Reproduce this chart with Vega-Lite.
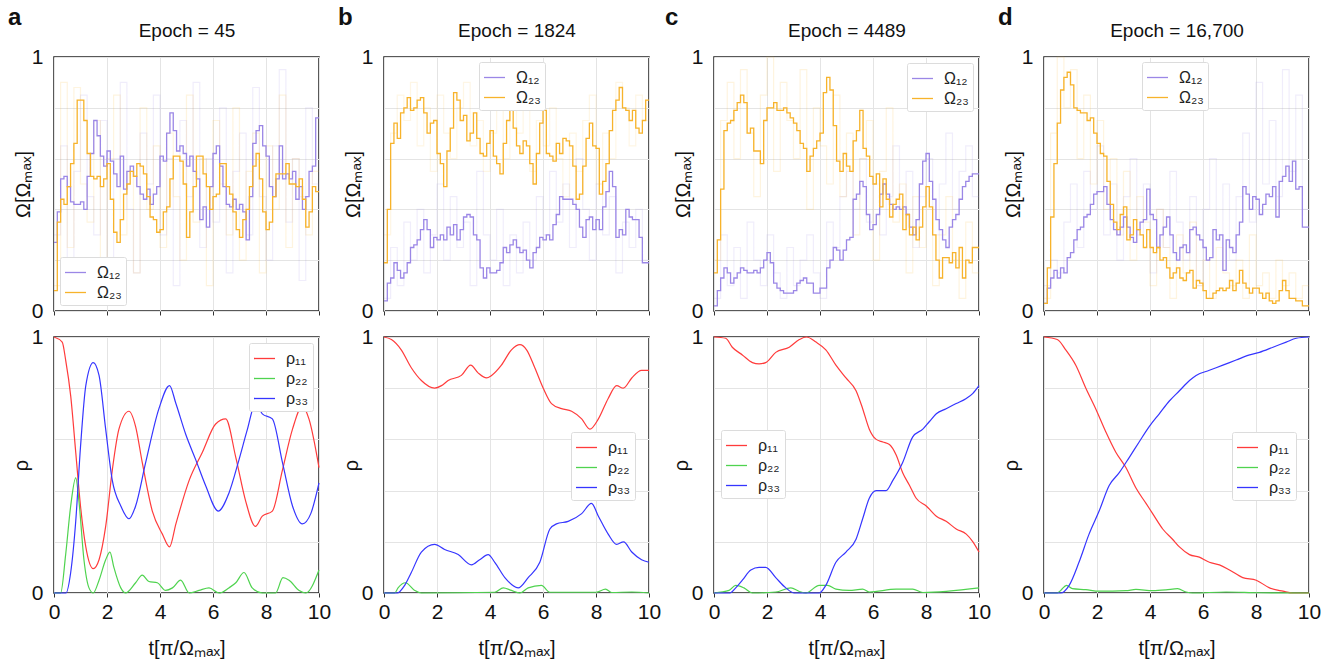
{
"$schema":"https://vega.github.io/schema/vega-lite/v6.json",
"padding":{"left":7,"top":5,"right":5,"bottom":5},
"config":{
 "font":"Liberation Sans",
 "view":{"stroke":"#222","strokeWidth":1.5},
 "axis":{"domain":false,"gridColor":"#e4e4e4","gridWidth":1,"tickColor":"#333","tickSize":4,"labelFontSize":21,"labelColor":"#111","titleFontSize":20,"titleFontWeight":"normal","titleColor":"#111","labelFlush":false},
 "legend":{"fillColor":"white","strokeColor":"#dcdcdc","padding":4,"cornerRadius":2,"labelFontSize":16,"labelColor":"#222","symbolType":"stroke","symbolSize":441,"symbolStrokeWidth":1.3,"labelOffset":10,"rowPadding":0},
 "title":{"fontSize":24,"fontWeight":"bold","color":"#111","anchor":"start","frame":"group"}
},
"datasets":{
"aP":[{"t":0,"v":0.27},{"t":0.125,"v":0.39},{"t":0.25,"v":0.52},{"t":0.375,"v":0.53},{"t":0.5,"v":0.49},{"t":0.625,"v":0.43},{"t":0.75,"v":0.42},{"t":0.875,"v":0.42},
{"t":1,"v":0.43},{"t":1.125,"v":0.40},{"t":1.25,"v":0.53},{"t":1.375,"v":0.62},{"t":1.5,"v":0.75},{"t":1.625,"v":0.69},{"t":1.75,"v":0.61},{"t":1.875,"v":0.57},
{"t":2,"v":0.63},{"t":2.125,"v":0.59},{"t":2.25,"v":0.54},{"t":2.375,"v":0.49},{"t":2.5,"v":0.61},{"t":2.625,"v":0.48},{"t":2.75,"v":0.55},{"t":2.875,"v":0.57},
{"t":3,"v":0.53},{"t":3.125,"v":0.49},{"t":3.25,"v":0.46},{"t":3.375,"v":0.44},{"t":3.5,"v":0.48},{"t":3.625,"v":0.42},{"t":3.75,"v":0.46},{"t":3.875,"v":0.49},
{"t":4,"v":0.61},{"t":4.125,"v":0.59},{"t":4.25,"v":0.70},{"t":4.375,"v":0.78},{"t":4.5,"v":0.71},{"t":4.625,"v":0.63},{"t":4.75,"v":0.65},{"t":4.875,"v":0.62},
{"t":5,"v":0.57},{"t":5.125,"v":0.61},{"t":5.25,"v":0.55},{"t":5.375,"v":0.52},{"t":5.5,"v":0.36},{"t":5.625,"v":0.41},{"t":5.75,"v":0.33},{"t":5.875,"v":0.49},
{"t":6,"v":0.62},{"t":6.125,"v":0.65},{"t":6.25,"v":0.57},{"t":6.375,"v":0.49},{"t":6.5,"v":0.42},{"t":6.625,"v":0.41},{"t":6.75,"v":0.44},{"t":6.875,"v":0.40},
{"t":7,"v":0.42},{"t":7.125,"v":0.39},{"t":7.25,"v":0.28},{"t":7.375,"v":0.45},{"t":7.5,"v":0.66},{"t":7.625,"v":0.71},{"t":7.75,"v":0.73},{"t":7.875,"v":0.65},
{"t":8,"v":0.61},{"t":8.125,"v":0.49},{"t":8.25,"v":0.45},{"t":8.375,"v":0.52},{"t":8.5,"v":0.65},{"t":8.625,"v":0.52},{"t":8.75,"v":0.54},{"t":8.875,"v":0.52},
{"t":9,"v":0.55},{"t":9.125,"v":0.44},{"t":9.25,"v":0.49},{"t":9.375,"v":0.40},{"t":9.5,"v":0.45},{"t":9.625,"v":0.55},{"t":9.75,"v":0.57},{"t":9.875,"v":0.76},{"t":10,"v":0.76}],
"aO":[{"t":0,"v":0.08},{"t":0.125,"v":0.35},{"t":0.25,"v":0.44},{"t":0.375,"v":0.42},{"t":0.5,"v":0.49},{"t":0.625,"v":0.58},{"t":0.75,"v":0.66},{"t":0.875,"v":0.83},
{"t":1,"v":0.83},{"t":1.125,"v":0.75},{"t":1.25,"v":0.62},{"t":1.375,"v":0.53},{"t":1.5,"v":0.52},{"t":1.625,"v":0.53},{"t":1.75,"v":0.49},{"t":1.875,"v":0.52},
{"t":2,"v":0.58},{"t":2.125,"v":0.44},{"t":2.25,"v":0.31},{"t":2.375,"v":0.27},{"t":2.5,"v":0.36},{"t":2.625,"v":0.46},{"t":2.75,"v":0.50},{"t":2.875,"v":0.55},
{"t":3,"v":0.53},{"t":3.125,"v":0.58},{"t":3.25,"v":0.57},{"t":3.375,"v":0.54},{"t":3.5,"v":0.45},{"t":3.625,"v":0.37},{"t":3.75,"v":0.36},{"t":3.875,"v":0.31},
{"t":4,"v":0.32},{"t":4.125,"v":0.39},{"t":4.25,"v":0.41},{"t":4.375,"v":0.52},{"t":4.5,"v":0.61},{"t":4.625,"v":0.61},{"t":4.75,"v":0.59},{"t":4.875,"v":0.50},
{"t":5,"v":0.29},{"t":5.125,"v":0.39},{"t":5.25,"v":0.49},{"t":5.375,"v":0.61},{"t":5.5,"v":0.61},{"t":5.625,"v":0.54},{"t":5.75,"v":0.49},{"t":5.875,"v":0.40},
{"t":6,"v":0.45},{"t":6.125,"v":0.46},{"t":6.25,"v":0.58},{"t":6.375,"v":0.58},{"t":6.5,"v":0.49},{"t":6.625,"v":0.46},{"t":6.75,"v":0.39},{"t":6.875,"v":0.32},
{"t":7,"v":0.29},{"t":7.125,"v":0.36},{"t":7.25,"v":0.40},{"t":7.375,"v":0.49},{"t":7.5,"v":0.57},{"t":7.625,"v":0.62},{"t":7.75,"v":0.52},{"t":7.875,"v":0.39},
{"t":8,"v":0.32},{"t":8.125,"v":0.35},{"t":8.25,"v":0.45},{"t":8.375,"v":0.54},{"t":8.5,"v":0.54},{"t":8.625,"v":0.54},{"t":8.75,"v":0.58},{"t":8.875,"v":0.50},
{"t":9,"v":0.50},{"t":9.125,"v":0.49},{"t":9.25,"v":0.52},{"t":9.375,"v":0.44},{"t":9.5,"v":0.33},{"t":9.625,"v":0.39},{"t":9.75,"v":0.49},{"t":9.875,"v":0.47},{"t":10,"v":0.47}],
"bO":[{"t":0,"v":0.19},{"t":0.125,"v":0.40},{"t":0.25,"v":0.66},{"t":0.375,"v":0.74},{"t":0.5,"v":0.68},{"t":0.625,"v":0.78},{"t":0.75,"v":0.80},{"t":0.875,"v":0.84},
{"t":1,"v":0.79},{"t":1.125,"v":0.80},{"t":1.25,"v":0.83},{"t":1.375,"v":0.84},{"t":1.5,"v":0.78},{"t":1.625,"v":0.70},{"t":1.75,"v":0.74},{"t":1.875,"v":0.75},
{"t":2,"v":0.62},{"t":2.125,"v":0.58},{"t":2.25,"v":0.49},{"t":2.375,"v":0.63},{"t":2.5,"v":0.72},{"t":2.625,"v":0.86},{"t":2.75,"v":0.83},{"t":2.875,"v":0.75},
{"t":3,"v":0.77},{"t":3.125,"v":0.67},{"t":3.25,"v":0.70},{"t":3.375,"v":0.78},{"t":3.5,"v":0.68},{"t":3.625,"v":0.62},{"t":3.75,"v":0.61},{"t":3.875,"v":0.66},
{"t":4,"v":0.71},{"t":4.125,"v":0.61},{"t":4.25,"v":0.58},{"t":4.375,"v":0.54},{"t":4.5,"v":0.66},{"t":4.625,"v":0.75},{"t":4.75,"v":0.83},{"t":4.875,"v":0.72},
{"t":5,"v":0.65},{"t":5.125,"v":0.62},{"t":5.25,"v":0.67},{"t":5.375,"v":0.65},{"t":5.5,"v":0.58},{"t":5.625,"v":0.50},{"t":5.75,"v":0.62},{"t":5.875,"v":0.74},
{"t":6,"v":0.79},{"t":6.125,"v":0.62},{"t":6.25,"v":0.61},{"t":6.375,"v":0.59},{"t":6.5,"v":0.66},{"t":6.625,"v":0.62},{"t":6.75,"v":0.68},{"t":6.875,"v":0.67},
{"t":7,"v":0.65},{"t":7.125,"v":0.57},{"t":7.25,"v":0.44},{"t":7.375,"v":0.46},{"t":7.5,"v":0.57},{"t":7.625,"v":0.68},{"t":7.75,"v":0.74},{"t":7.875,"v":0.65},
{"t":8,"v":0.64},{"t":8.125,"v":0.46},{"t":8.25,"v":0.51},{"t":8.375,"v":0.58},{"t":8.5,"v":0.71},{"t":8.625,"v":0.79},{"t":8.75,"v":0.83},{"t":8.875,"v":0.88},
{"t":9,"v":0.80},{"t":9.125,"v":0.79},{"t":9.25,"v":0.75},{"t":9.375,"v":0.79},{"t":9.5,"v":0.72},{"t":9.625,"v":0.70},{"t":9.75,"v":0.75},{"t":9.875,"v":0.83},{"t":10,"v":0.83}],
"bP":[{"t":0,"v":0.04},{"t":0.125,"v":0.11},{"t":0.25,"v":0.13},{"t":0.375,"v":0.19},{"t":0.5,"v":0.16},{"t":0.625,"v":0.13},{"t":0.75,"v":0.15},{"t":0.875,"v":0.19},
{"t":1,"v":0.25},{"t":1.125,"v":0.26},{"t":1.25,"v":0.28},{"t":1.375,"v":0.32},{"t":1.5,"v":0.36},{"t":1.625,"v":0.32},{"t":1.75,"v":0.25},{"t":1.875,"v":0.29},
{"t":2,"v":0.28},{"t":2.125,"v":0.30},{"t":2.25,"v":0.28},{"t":2.375,"v":0.33},{"t":2.5,"v":0.30},{"t":2.625,"v":0.34},{"t":2.75,"v":0.28},{"t":2.875,"v":0.32},
{"t":3,"v":0.37},{"t":3.125,"v":0.38},{"t":3.25,"v":0.37},{"t":3.375,"v":0.30},{"t":3.5,"v":0.28},{"t":3.625,"v":0.17},{"t":3.75,"v":0.13},{"t":3.875,"v":0.17},
{"t":4,"v":0.15},{"t":4.125,"v":0.15},{"t":4.25,"v":0.16},{"t":4.375,"v":0.19},{"t":4.5,"v":0.25},{"t":4.625,"v":0.23},{"t":4.75,"v":0.26},{"t":4.875,"v":0.28},
{"t":5,"v":0.25},{"t":5.125,"v":0.23},{"t":5.25,"v":0.24},{"t":5.375,"v":0.20},{"t":5.5,"v":0.17},{"t":5.625,"v":0.23},{"t":5.75,"v":0.25},{"t":5.875,"v":0.29},
{"t":6,"v":0.28},{"t":6.125,"v":0.30},{"t":6.25,"v":0.28},{"t":6.375,"v":0.34},{"t":6.5,"v":0.38},{"t":6.625,"v":0.45},{"t":6.75,"v":0.44},{"t":6.875,"v":0.44},
{"t":7,"v":0.44},{"t":7.125,"v":0.42},{"t":7.25,"v":0.40},{"t":7.375,"v":0.33},{"t":7.5,"v":0.29},{"t":7.625,"v":0.36},{"t":7.75,"v":0.37},{"t":7.875,"v":0.32},
{"t":8,"v":0.36},{"t":8.125,"v":0.32},{"t":8.25,"v":0.41},{"t":8.375,"v":0.47},{"t":8.5,"v":0.55},{"t":8.625,"v":0.49},{"t":8.75,"v":0.29},{"t":8.875,"v":0.32},
{"t":9,"v":0.30},{"t":9.125,"v":0.40},{"t":9.25,"v":0.37},{"t":9.375,"v":0.36},{"t":9.5,"v":0.36},{"t":9.625,"v":0.29},{"t":9.75,"v":0.19},{"t":9.875,"v":0.19},{"t":10,"v":0.19}],
"cO":[{"t":0,"v":0.15},{"t":0.125,"v":0.28},{"t":0.25,"v":0.48},{"t":0.375,"v":0.71},{"t":0.5,"v":0.74},{"t":0.625,"v":0.75},{"t":0.75,"v":0.79},{"t":0.875,"v":0.82},
{"t":1,"v":0.85},{"t":1.125,"v":0.82},{"t":1.25,"v":0.70},{"t":1.375,"v":0.72},{"t":1.5,"v":0.63},{"t":1.625,"v":0.63},{"t":1.75,"v":0.58},{"t":1.875,"v":0.75},
{"t":2,"v":0.80},{"t":2.125,"v":0.80},{"t":2.25,"v":0.82},{"t":2.375,"v":0.79},{"t":2.5,"v":0.79},{"t":2.625,"v":0.80},{"t":2.75,"v":0.78},{"t":2.875,"v":0.76},
{"t":3,"v":0.74},{"t":3.125,"v":0.71},{"t":3.25,"v":0.66},{"t":3.375,"v":0.64},{"t":3.5,"v":0.55},{"t":3.625,"v":0.61},{"t":3.75,"v":0.64},{"t":3.875,"v":0.67},
{"t":4,"v":0.70},{"t":4.125,"v":0.86},{"t":4.25,"v":0.92},{"t":4.375,"v":0.87},{"t":4.5,"v":0.73},{"t":4.625,"v":0.59},{"t":4.75,"v":0.55},{"t":4.875,"v":0.62},
{"t":5,"v":0.57},{"t":5.125,"v":0.55},{"t":5.25,"v":0.67},{"t":5.375,"v":0.71},{"t":5.5,"v":0.79},{"t":5.625,"v":0.64},{"t":5.75,"v":0.61},{"t":5.875,"v":0.53},
{"t":6,"v":0.50},{"t":6.125,"v":0.54},{"t":6.25,"v":0.41},{"t":6.375,"v":0.52},{"t":6.5,"v":0.44},{"t":6.625,"v":0.37},{"t":6.75,"v":0.42},{"t":6.875,"v":0.44},
{"t":7,"v":0.46},{"t":7.125,"v":0.32},{"t":7.25,"v":0.38},{"t":7.375,"v":0.30},{"t":7.5,"v":0.33},{"t":7.625,"v":0.28},{"t":7.75,"v":0.33},{"t":7.875,"v":0.41},
{"t":8,"v":0.49},{"t":8.125,"v":0.41},{"t":8.25,"v":0.30},{"t":8.375,"v":0.20},{"t":8.5,"v":0.13},{"t":8.625,"v":0.21},{"t":8.75,"v":0.21},{"t":8.875,"v":0.19},
{"t":9,"v":0.23},{"t":9.125,"v":0.17},{"t":9.25,"v":0.25},{"t":9.375,"v":0.13},{"t":9.5,"v":0.20},{"t":9.625,"v":0.19},{"t":9.75,"v":0.25},{"t":9.875,"v":0.25},{"t":10,"v":0.25}],
"cP":[{"t":0,"v":0.02},{"t":0.125,"v":0.08},{"t":0.25,"v":0.13},{"t":0.375,"v":0.17},{"t":0.5,"v":0.15},{"t":0.625,"v":0.11},{"t":0.75,"v":0.13},{"t":0.875,"v":0.15},
{"t":1,"v":0.17},{"t":1.125,"v":0.16},{"t":1.25,"v":0.15},{"t":1.375,"v":0.15},{"t":1.5,"v":0.16},{"t":1.625,"v":0.15},{"t":1.75,"v":0.17},{"t":1.875,"v":0.20},
{"t":2,"v":0.23},{"t":2.125,"v":0.19},{"t":2.25,"v":0.11},{"t":2.375,"v":0.09},{"t":2.5,"v":0.08},{"t":2.625,"v":0.07},{"t":2.75,"v":0.07},{"t":2.875,"v":0.07},
{"t":3,"v":0.08},{"t":3.125,"v":0.11},{"t":3.25,"v":0.12},{"t":3.375,"v":0.13},{"t":3.5,"v":0.11},{"t":3.625,"v":0.11},{"t":3.75,"v":0.07},{"t":3.875,"v":0.07},
{"t":4,"v":0.09},{"t":4.125,"v":0.09},{"t":4.25,"v":0.17},{"t":4.375,"v":0.20},{"t":4.5,"v":0.25},{"t":4.625,"v":0.24},{"t":4.75,"v":0.20},{"t":4.875,"v":0.24},
{"t":5,"v":0.28},{"t":5.125,"v":0.29},{"t":5.25,"v":0.44},{"t":5.375,"v":0.46},{"t":5.5,"v":0.51},{"t":5.625,"v":0.49},{"t":5.75,"v":0.38},{"t":5.875,"v":0.32},
{"t":6,"v":0.34},{"t":6.125,"v":0.38},{"t":6.25,"v":0.46},{"t":6.375,"v":0.50},{"t":6.5,"v":0.46},{"t":6.625,"v":0.42},{"t":6.75,"v":0.40},{"t":6.875,"v":0.41},
{"t":7,"v":0.40},{"t":7.125,"v":0.41},{"t":7.25,"v":0.38},{"t":7.375,"v":0.33},{"t":7.5,"v":0.30},{"t":7.625,"v":0.36},{"t":7.75,"v":0.50},{"t":7.875,"v":0.59},
{"t":8,"v":0.62},{"t":8.125,"v":0.51},{"t":8.25,"v":0.44},{"t":8.375,"v":0.36},{"t":8.5,"v":0.32},{"t":8.625,"v":0.28},{"t":8.75,"v":0.25},{"t":8.875,"v":0.33},
{"t":9,"v":0.36},{"t":9.125,"v":0.38},{"t":9.25,"v":0.44},{"t":9.375,"v":0.49},{"t":9.5,"v":0.51},{"t":9.625,"v":0.53},{"t":9.75,"v":0.54},{"t":9.875,"v":0.54},{"t":10,"v":0.54}],
"dO":[{"t":0,"v":0.03},{"t":0.125,"v":0.17},{"t":0.25,"v":0.37},{"t":0.375,"v":0.58},{"t":0.5,"v":0.74},{"t":0.625,"v":0.87},{"t":0.75,"v":0.92},{"t":0.875,"v":0.94},
{"t":1,"v":0.89},{"t":1.125,"v":0.80},{"t":1.25,"v":0.79},{"t":1.375,"v":0.78},{"t":1.5,"v":0.78},{"t":1.625,"v":0.75},{"t":1.75,"v":0.76},{"t":1.875,"v":0.70},
{"t":2,"v":0.66},{"t":2.125,"v":0.62},{"t":2.25,"v":0.61},{"t":2.375,"v":0.51},{"t":2.5,"v":0.42},{"t":2.625,"v":0.35},{"t":2.75,"v":0.32},{"t":2.875,"v":0.38},
{"t":3,"v":0.41},{"t":3.125,"v":0.28},{"t":3.25,"v":0.30},{"t":3.375,"v":0.36},{"t":3.5,"v":0.32},{"t":3.625,"v":0.30},{"t":3.75,"v":0.25},{"t":3.875,"v":0.32},
{"t":4,"v":0.25},{"t":4.125,"v":0.23},{"t":4.25,"v":0.25},{"t":4.375,"v":0.20},{"t":4.5,"v":0.21},{"t":4.625,"v":0.17},{"t":4.75,"v":0.13},{"t":4.875,"v":0.15},
{"t":5,"v":0.17},{"t":5.125,"v":0.13},{"t":5.25,"v":0.12},{"t":5.375,"v":0.15},{"t":5.5,"v":0.16},{"t":5.625,"v":0.09},{"t":5.75,"v":0.12},{"t":5.875,"v":0.11},
{"t":6,"v":0.08},{"t":6.125,"v":0.05},{"t":6.25,"v":0.05},{"t":6.375,"v":0.07},{"t":6.5,"v":0.08},{"t":6.625,"v":0.09},{"t":6.75,"v":0.08},{"t":6.875,"v":0.09},
{"t":7,"v":0.12},{"t":7.125,"v":0.08},{"t":7.25,"v":0.11},{"t":7.375,"v":0.16},{"t":7.5,"v":0.11},{"t":7.625,"v":0.09},{"t":7.75,"v":0.07},{"t":7.875,"v":0.09},
{"t":8,"v":0.09},{"t":8.125,"v":0.07},{"t":8.25,"v":0.05},{"t":8.375,"v":0.07},{"t":8.5,"v":0.04},{"t":8.625,"v":0.03},{"t":8.75,"v":0.04},{"t":8.875,"v":0.08},
{"t":9,"v":0.12},{"t":9.125,"v":0.08},{"t":9.25,"v":0.05},{"t":9.375,"v":0.05},{"t":9.5,"v":0.04},{"t":9.625,"v":0.04},{"t":9.75,"v":0.02},{"t":9.875,"v":0.02},{"t":10,"v":0.02}],
"dP":[{"t":0,"v":0.03},{"t":0.125,"v":0.09},{"t":0.25,"v":0.13},{"t":0.375,"v":0.16},{"t":0.5,"v":0.13},{"t":0.625,"v":0.17},{"t":0.75,"v":0.15},{"t":0.875,"v":0.21},
{"t":1,"v":0.23},{"t":1.125,"v":0.28},{"t":1.25,"v":0.32},{"t":1.375,"v":0.33},{"t":1.5,"v":0.37},{"t":1.625,"v":0.38},{"t":1.75,"v":0.42},{"t":1.875,"v":0.46},
{"t":2,"v":0.47},{"t":2.125,"v":0.47},{"t":2.25,"v":0.49},{"t":2.375,"v":0.42},{"t":2.5,"v":0.36},{"t":2.625,"v":0.32},{"t":2.75,"v":0.30},{"t":2.875,"v":0.33},
{"t":3,"v":0.37},{"t":3.125,"v":0.33},{"t":3.25,"v":0.29},{"t":3.375,"v":0.27},{"t":3.5,"v":0.32},{"t":3.625,"v":0.35},{"t":3.75,"v":0.36},{"t":3.875,"v":0.48},
{"t":4,"v":0.38},{"t":4.125,"v":0.36},{"t":4.25,"v":0.25},{"t":4.375,"v":0.30},{"t":4.5,"v":0.33},{"t":4.625,"v":0.37},{"t":4.75,"v":0.30},{"t":4.875,"v":0.23},
{"t":5,"v":0.20},{"t":5.125,"v":0.25},{"t":5.25,"v":0.26},{"t":5.375,"v":0.23},{"t":5.5,"v":0.32},{"t":5.625,"v":0.33},{"t":5.75,"v":0.30},{"t":5.875,"v":0.28},
{"t":6,"v":0.25},{"t":6.125,"v":0.20},{"t":6.25,"v":0.21},{"t":6.375,"v":0.32},{"t":6.5,"v":0.28},{"t":6.625,"v":0.30},{"t":6.75,"v":0.16},{"t":6.875,"v":0.28},
{"t":7,"v":0.25},{"t":7.125,"v":0.23},{"t":7.25,"v":0.30},{"t":7.375,"v":0.35},{"t":7.5,"v":0.49},{"t":7.625,"v":0.46},{"t":7.75,"v":0.40},{"t":7.875,"v":0.45},
{"t":8,"v":0.44},{"t":8.125,"v":0.38},{"t":8.25,"v":0.42},{"t":8.375,"v":0.46},{"t":8.5,"v":0.45},{"t":8.625,"v":0.49},{"t":8.75,"v":0.37},{"t":8.875,"v":0.51},
{"t":9,"v":0.53},{"t":9.125,"v":0.57},{"t":9.25,"v":0.51},{"t":9.375,"v":0.59},{"t":9.5,"v":0.48},{"t":9.625,"v":0.49},{"t":9.75,"v":0.33},{"t":9.875,"v":0.33},{"t":10,"v":0.33}],
"afP":[{"t":0,"v":0.3},{"t":0.25,"v":0.65},{"t":0.5,"v":0.2},{"t":0.75,"v":0.55},{"t":1,"v":0.85},{"t":1.25,"v":0.45},{"t":1.5,"v":0.3},{"t":1.75,"v":0.75},{"t":2,"v":0.2},{"t":2.25,"v":0.6},{"t":2.5,"v":0.9},{"t":2.75,"v":0.4},{"t":3,"v":0.15},{"t":3.25,"v":0.7},{"t":3.5,"v":0.5},{"t":3.75,"v":0.85},{"t":4,"v":0.3},{"t":4.25,"v":0.6},{"t":4.5,"v":0.1},{"t":4.75,"v":0.75},{"t":5,"v":0.45},{"t":5.25,"v":0.9},{"t":5.5,"v":0.25},{"t":5.75,"v":0.6},{"t":6,"v":0.35},{"t":6.25,"v":0.8},{"t":6.5,"v":0.15},{"t":6.75,"v":0.55},{"t":7,"v":0.7},{"t":7.25,"v":0.3},{"t":7.5,"v":0.88},{"t":7.75,"v":0.45},{"t":8,"v":0.2},{"t":8.25,"v":0.65},{"t":8.5,"v":0.95},{"t":8.75,"v":0.35},{"t":9,"v":0.6},{"t":9.25,"v":0.12},{"t":9.5,"v":0.8},{"t":9.75,"v":0.5},{"t":10,"v":0.5}],
"afO":[{"t":0,"v":0.1},{"t":0.25,"v":0.9},{"t":0.5,"v":0.25},{"t":0.75,"v":0.88},{"t":1,"v":0.5},{"t":1.25,"v":0.35},{"t":1.5,"v":0.75},{"t":1.75,"v":0.2},{"t":2,"v":0.6},{"t":2.25,"v":0.85},{"t":2.5,"v":0.3},{"t":2.75,"v":0.55},{"t":3,"v":0.15},{"t":3.25,"v":0.8},{"t":3.5,"v":0.4},{"t":3.75,"v":0.65},{"t":4,"v":0.25},{"t":4.25,"v":0.7},{"t":4.5,"v":0.45},{"t":4.75,"v":0.2},{"t":5,"v":0.85},{"t":5.25,"v":0.35},{"t":5.5,"v":0.6},{"t":5.75,"v":0.1},{"t":6,"v":0.75},{"t":6.25,"v":0.5},{"t":6.5,"v":0.3},{"t":6.75,"v":0.8},{"t":7,"v":0.2},{"t":7.25,"v":0.55},{"t":7.5,"v":0.7},{"t":7.75,"v":0.15},{"t":8,"v":0.65},{"t":8.25,"v":0.4},{"t":8.5,"v":0.85},{"t":8.75,"v":0.25},{"t":9,"v":0.6},{"t":9.25,"v":0.45},{"t":9.5,"v":0.3},{"t":9.75,"v":0.55},{"t":10,"v":0.55}],
"bfP":[{"t":0,"v":0.05},{"t":0.25,"v":0.25},{"t":0.5,"v":0.1},{"t":0.75,"v":0.35},{"t":1,"v":0.2},{"t":1.25,"v":0.4},{"t":1.5,"v":0.15},{"t":1.75,"v":0.3},{"t":2,"v":0.5},{"t":2.25,"v":0.2},{"t":2.5,"v":0.45},{"t":2.75,"v":0.25},{"t":3,"v":0.35},{"t":3.25,"v":0.1},{"t":3.5,"v":0.55},{"t":3.75,"v":0.3},{"t":4,"v":0.2},{"t":4.25,"v":0.4},{"t":4.5,"v":0.1},{"t":4.75,"v":0.3},{"t":5,"v":0.15},{"t":5.25,"v":0.35},{"t":5.5,"v":0.2},{"t":5.75,"v":0.45},{"t":6,"v":0.3},{"t":6.25,"v":0.55},{"t":6.5,"v":0.35},{"t":6.75,"v":0.5},{"t":7,"v":0.25},{"t":7.25,"v":0.6},{"t":7.5,"v":0.4},{"t":7.75,"v":0.2},{"t":8,"v":0.5},{"t":8.25,"v":0.3},{"t":8.5,"v":0.45},{"t":8.75,"v":0.15},{"t":9,"v":0.35},{"t":9.25,"v":0.25},{"t":9.5,"v":0.4},{"t":9.75,"v":0.2},{"t":10,"v":0.2}],
"bfO":[{"t":0,"v":0.3},{"t":0.25,"v":0.7},{"t":0.5,"v":0.85},{"t":0.75,"v":0.75},{"t":1,"v":0.9},{"t":1.25,"v":0.65},{"t":1.5,"v":0.8},{"t":1.75,"v":0.55},{"t":2,"v":0.85},{"t":2.25,"v":0.7},{"t":2.5,"v":0.6},{"t":2.75,"v":0.8},{"t":3,"v":0.9},{"t":3.25,"v":0.65},{"t":3.5,"v":0.75},{"t":3.75,"v":0.55},{"t":4,"v":0.7},{"t":4.25,"v":0.85},{"t":4.5,"v":0.6},{"t":4.75,"v":0.8},{"t":5,"v":0.7},{"t":5.25,"v":0.9},{"t":5.5,"v":0.55},{"t":5.75,"v":0.75},{"t":6,"v":0.65},{"t":6.25,"v":0.8},{"t":6.5,"v":0.6},{"t":6.75,"v":0.45},{"t":7,"v":0.7},{"t":7.25,"v":0.55},{"t":7.5,"v":0.75},{"t":7.75,"v":0.85},{"t":8,"v":0.5},{"t":8.25,"v":0.7},{"t":8.5,"v":0.6},{"t":8.75,"v":0.9},{"t":9,"v":0.8},{"t":9.25,"v":0.65},{"t":9.5,"v":0.85},{"t":9.75,"v":0.75},{"t":10,"v":0.75}],
"cfO":[{"t":0,"v":0.2},{"t":0.25,"v":0.75},{"t":0.5,"v":0.9},{"t":0.75,"v":0.6},{"t":1,"v":0.95},{"t":1.25,"v":0.7},{"t":1.5,"v":0.45},{"t":1.75,"v":0.85},{"t":2,"v":1.0},{"t":2.25,"v":0.55},{"t":2.5,"v":0.9},{"t":2.75,"v":0.75},{"t":3,"v":0.6},{"t":3.25,"v":0.95},{"t":3.5,"v":0.4},{"t":3.75,"v":0.8},{"t":4,"v":0.65},{"t":4.25,"v":0.5},{"t":4.5,"v":0.85},{"t":4.75,"v":0.45},{"t":5,"v":0.7},{"t":5.25,"v":0.3},{"t":5.5,"v":0.6},{"t":5.75,"v":0.75},{"t":6,"v":0.2},{"t":6.25,"v":0.55},{"t":6.5,"v":0.8},{"t":6.75,"v":0.35},{"t":7,"v":0.5},{"t":7.25,"v":0.15},{"t":7.5,"v":0.45},{"t":7.75,"v":0.25},{"t":8,"v":0.4},{"t":8.25,"v":0.1},{"t":8.5,"v":0.3},{"t":8.75,"v":0.45},{"t":9,"v":0.2},{"t":9.25,"v":0.05},{"t":9.5,"v":0.35},{"t":9.75,"v":0.15},{"t":10,"v":0.15}],
"cfP":[{"t":0,"v":0.05},{"t":0.25,"v":0.3},{"t":0.5,"v":0.1},{"t":0.75,"v":0.25},{"t":1,"v":0.05},{"t":1.25,"v":0.35},{"t":1.5,"v":0.2},{"t":1.75,"v":0.1},{"t":2,"v":0.3},{"t":2.25,"v":0.15},{"t":2.5,"v":0.05},{"t":2.75,"v":0.25},{"t":3,"v":0.1},{"t":3.25,"v":0.2},{"t":3.5,"v":0.3},{"t":3.75,"v":0.15},{"t":4,"v":0.05},{"t":4.25,"v":0.35},{"t":4.5,"v":0.25},{"t":4.75,"v":0.45},{"t":5,"v":0.55},{"t":5.25,"v":0.4},{"t":5.5,"v":0.6},{"t":5.75,"v":0.35},{"t":6,"v":0.5},{"t":6.25,"v":0.3},{"t":6.5,"v":0.45},{"t":6.75,"v":0.65},{"t":7,"v":0.4},{"t":7.25,"v":0.55},{"t":7.5,"v":0.25},{"t":7.75,"v":0.45},{"t":8,"v":0.6},{"t":8.25,"v":0.3},{"t":8.5,"v":0.5},{"t":8.75,"v":0.7},{"t":9,"v":0.4},{"t":9.25,"v":0.55},{"t":9.5,"v":0.65},{"t":9.75,"v":0.45},{"t":10,"v":0.45}],
"dfO":[{"t":0,"v":0.05},{"t":0.25,"v":0.7},{"t":0.5,"v":1.0},{"t":0.75,"v":0.8},{"t":1,"v":0.95},{"t":1.25,"v":0.6},{"t":1.5,"v":0.85},{"t":1.75,"v":0.5},{"t":2,"v":0.75},{"t":2.25,"v":0.4},{"t":2.5,"v":0.6},{"t":2.75,"v":0.3},{"t":3,"v":0.55},{"t":3.25,"v":0.2},{"t":3.5,"v":0.45},{"t":3.75,"v":0.35},{"t":4,"v":0.1},{"t":4.25,"v":0.4},{"t":4.5,"v":0.25},{"t":4.75,"v":0.05},{"t":5,"v":0.3},{"t":5.25,"v":0.15},{"t":5.5,"v":0.35},{"t":5.75,"v":0.1},{"t":6,"v":0.2},{"t":6.25,"v":0.05},{"t":6.5,"v":0.25},{"t":6.75,"v":0.15},{"t":7,"v":0.1},{"t":7.25,"v":0.2},{"t":7.5,"v":0.05},{"t":7.75,"v":0.3},{"t":8,"v":0.1},{"t":8.25,"v":0.15},{"t":8.5,"v":0.05},{"t":8.75,"v":0.2},{"t":9,"v":0.1},{"t":9.25,"v":0.15},{"t":9.5,"v":0.05},{"t":9.75,"v":0.1},{"t":10,"v":0.1}],
"dfP":[{"t":0,"v":0.1},{"t":0.25,"v":0.2},{"t":0.5,"v":0.15},{"t":0.75,"v":0.35},{"t":1,"v":0.5},{"t":1.25,"v":0.25},{"t":1.5,"v":0.55},{"t":1.75,"v":0.4},{"t":2,"v":0.65},{"t":2.25,"v":0.3},{"t":2.5,"v":0.5},{"t":2.75,"v":0.2},{"t":3,"v":0.45},{"t":3.25,"v":0.6},{"t":3.5,"v":0.3},{"t":3.75,"v":0.5},{"t":4,"v":0.15},{"t":4.25,"v":0.4},{"t":4.5,"v":0.25},{"t":4.75,"v":0.55},{"t":5,"v":0.35},{"t":5.25,"v":0.2},{"t":5.5,"v":0.45},{"t":5.75,"v":0.1},{"t":6,"v":0.4},{"t":6.25,"v":0.6},{"t":6.5,"v":0.3},{"t":6.75,"v":0.5},{"t":7,"v":0.2},{"t":7.25,"v":0.45},{"t":7.5,"v":0.7},{"t":7.75,"v":0.35},{"t":8,"v":0.9},{"t":8.25,"v":0.5},{"t":8.5,"v":0.75},{"t":8.75,"v":0.45},{"t":9,"v":0.95},{"t":9.25,"v":0.55},{"t":9.5,"v":0.85},{"t":9.75,"v":0.4},{"t":10,"v":0.4}],
"a11":[{"t":0,"v":1},{"t":0.31,"v":0.98},{"t":0.44,"v":0.91},{"t":0.63,"v":0.77},{"t":0.82,"v":0.55},{"t":1.0,"v":0.34},{"t":1.2,"v":0.18},{"t":1.48,"v":0.095},{"t":1.7,"v":0.13},{"t":1.95,"v":0.26},{"t":2.2,"v":0.48},{"t":2.45,"v":0.64},{"t":2.83,"v":0.71},{"t":3.08,"v":0.65},{"t":3.33,"v":0.51},{"t":3.71,"v":0.32},{"t":4.09,"v":0.23},{"t":4.36,"v":0.18},{"t":4.6,"v":0.27},{"t":5.1,"v":0.44},{"t":5.6,"v":0.55},{"t":6.1,"v":0.66},{"t":6.48,"v":0.68},{"t":6.86,"v":0.53},{"t":7.23,"v":0.36},{"t":7.6,"v":0.26},{"t":7.86,"v":0.30},{"t":8.24,"v":0.32},{"t":8.62,"v":0.48},{"t":9.0,"v":0.64},{"t":9.37,"v":0.73},{"t":9.62,"v":0.68},{"t":10,"v":0.49}],
"a22":[{"t":0,"v":0},{"t":0.25,"v":0},{"t":0.44,"v":0.15},{"t":0.63,"v":0.34},{"t":0.82,"v":0.45},{"t":0.94,"v":0.36},{"t":1.13,"v":0.13},{"t":1.32,"v":0.02},{"t":1.48,"v":0},{"t":1.7,"v":0.05},{"t":1.95,"v":0.13},{"t":2.11,"v":0.16},{"t":2.26,"v":0.10},{"t":2.52,"v":0.02},{"t":2.7,"v":0},{"t":3.08,"v":0.04},{"t":3.33,"v":0.07},{"t":3.58,"v":0.045},{"t":3.9,"v":0.04},{"t":4.21,"v":0.01},{"t":4.47,"v":0.02},{"t":4.78,"v":0.05},{"t":5.1,"v":0.0},{"t":5.47,"v":0.01},{"t":5.85,"v":0.02},{"t":6.23,"v":0},{"t":6.6,"v":0.02},{"t":6.86,"v":0.04},{"t":7.17,"v":0.08},{"t":7.48,"v":0.02},{"t":7.86,"v":0},{"t":8.36,"v":0},{"t":8.64,"v":0.06},{"t":8.87,"v":0.05},{"t":9.25,"v":0.01},{"t":9.5,"v":0},{"t":10,"v":0.09}],
"a33":[{"t":0,"v":0},{"t":0.45,"v":0},{"t":0.63,"v":0.08},{"t":0.82,"v":0.28},{"t":1.0,"v":0.57},{"t":1.2,"v":0.81},{"t":1.48,"v":0.90},{"t":1.7,"v":0.85},{"t":1.95,"v":0.64},{"t":2.2,"v":0.44},{"t":2.52,"v":0.34},{"t":2.83,"v":0.29},{"t":3.08,"v":0.34},{"t":3.46,"v":0.51},{"t":3.96,"v":0.72},{"t":4.36,"v":0.81},{"t":4.6,"v":0.74},{"t":4.97,"v":0.62},{"t":5.35,"v":0.52},{"t":5.72,"v":0.42},{"t":6.2,"v":0.32},{"t":6.6,"v":0.39},{"t":6.98,"v":0.52},{"t":7.3,"v":0.64},{"t":7.6,"v":0.74},{"t":7.86,"v":0.70},{"t":8.24,"v":0.68},{"t":8.62,"v":0.51},{"t":9.0,"v":0.34},{"t":9.37,"v":0.27},{"t":9.69,"v":0.31},{"t":10,"v":0.43}],
"b11":[{"t":0,"v":1},{"t":0.28,"v":0.99},{"t":0.65,"v":0.95},{"t":1.03,"v":0.88},{"t":1.41,"v":0.83},{"t":1.91,"v":0.80},{"t":2.17,"v":0.81},{"t":2.42,"v":0.83},{"t":2.92,"v":0.85},{"t":3.27,"v":0.89},{"t":3.55,"v":0.86},{"t":3.87,"v":0.84},{"t":4.06,"v":0.85},{"t":4.43,"v":0.89},{"t":4.81,"v":0.95},{"t":5.13,"v":0.97},{"t":5.38,"v":0.95},{"t":5.69,"v":0.88},{"t":6.01,"v":0.80},{"t":6.32,"v":0.74},{"t":6.7,"v":0.72},{"t":7.08,"v":0.71},{"t":7.46,"v":0.68},{"t":7.77,"v":0.64},{"t":8.09,"v":0.68},{"t":8.46,"v":0.76},{"t":8.78,"v":0.81},{"t":9.03,"v":0.80},{"t":9.35,"v":0.84},{"t":9.72,"v":0.87},{"t":10,"v":0.87}],
"b22":[{"t":0,"v":0},{"t":0.4,"v":0},{"t":0.53,"v":0.02},{"t":0.81,"v":0.04},{"t":1.16,"v":0.01},{"t":1.41,"v":0},{"t":4.18,"v":0.003},{"t":4.5,"v":0.02},{"t":4.81,"v":0.01},{"t":5.13,"v":0},{"t":5.44,"v":0.02},{"t":5.94,"v":0.03},{"t":6.26,"v":0.003},{"t":8.0,"v":0.003},{"t":8.36,"v":0.015},{"t":8.59,"v":0.002},{"t":9.35,"v":0.004},{"t":10,"v":0}],
"b33":[{"t":0,"v":0},{"t":0.5,"v":0},{"t":0.78,"v":0.03},{"t":1.03,"v":0.08},{"t":1.41,"v":0.16},{"t":1.91,"v":0.19},{"t":2.29,"v":0.17},{"t":2.8,"v":0.15},{"t":3.3,"v":0.11},{"t":3.61,"v":0.13},{"t":3.93,"v":0.15},{"t":4.18,"v":0.12},{"t":4.56,"v":0.06},{"t":5.06,"v":0.02},{"t":5.44,"v":0.06},{"t":5.88,"v":0.12},{"t":6.26,"v":0.25},{"t":6.51,"v":0.27},{"t":6.95,"v":0.28},{"t":7.46,"v":0.31},{"t":7.83,"v":0.35},{"t":8.09,"v":0.30},{"t":8.46,"v":0.23},{"t":8.78,"v":0.19},{"t":9.04,"v":0.20},{"t":9.35,"v":0.16},{"t":9.72,"v":0.13},{"t":10,"v":0.12}],
"c11":[{"t":0,"v":1},{"t":0.44,"v":0.995},{"t":0.69,"v":0.96},{"t":1.07,"v":0.93},{"t":1.45,"v":0.90},{"t":1.7,"v":0.895},{"t":1.95,"v":0.90},{"t":2.33,"v":0.94},{"t":2.84,"v":0.96},{"t":3.22,"v":0.99},{"t":3.49,"v":1.0},{"t":3.85,"v":0.98},{"t":4.22,"v":0.95},{"t":4.6,"v":0.89},{"t":4.98,"v":0.84},{"t":5.36,"v":0.79},{"t":5.61,"v":0.72},{"t":5.86,"v":0.64},{"t":6.12,"v":0.60},{"t":6.37,"v":0.59},{"t":6.62,"v":0.58},{"t":6.87,"v":0.54},{"t":7.12,"v":0.47},{"t":7.38,"v":0.42},{"t":7.63,"v":0.37},{"t":8.01,"v":0.34},{"t":8.39,"v":0.30},{"t":8.76,"v":0.28},{"t":9.14,"v":0.25},{"t":9.52,"v":0.23},{"t":9.77,"v":0.20},{"t":10,"v":0.16}],
"c22":[{"t":0,"v":0},{"t":0.57,"v":0.01},{"t":0.82,"v":0.03},{"t":1.13,"v":0.02},{"t":1.45,"v":0},{"t":2.33,"v":0.004},{"t":2.9,"v":0.02},{"t":3.22,"v":0.006},{"t":3.47,"v":0},{"t":3.97,"v":0.03},{"t":4.29,"v":0.03},{"t":4.6,"v":0.015},{"t":5.1,"v":0.01},{"t":5.61,"v":0.015},{"t":5.86,"v":0.004},{"t":6.87,"v":0.015},{"t":7.5,"v":0.015},{"t":7.88,"v":0.002},{"t":10,"v":0.02}],
"c33":[{"t":0,"v":0},{"t":0.6,"v":0},{"t":0.82,"v":0.02},{"t":1.07,"v":0.05},{"t":1.39,"v":0.09},{"t":1.7,"v":0.10},{"t":1.95,"v":0.10},{"t":2.33,"v":0.06},{"t":2.71,"v":0.02},{"t":3.03,"v":0},{"t":3.97,"v":0},{"t":4.22,"v":0.03},{"t":4.6,"v":0.12},{"t":4.98,"v":0.16},{"t":5.36,"v":0.21},{"t":5.61,"v":0.29},{"t":5.86,"v":0.37},{"t":6.12,"v":0.40},{"t":6.49,"v":0.40},{"t":6.75,"v":0.44},{"t":7.12,"v":0.51},{"t":7.5,"v":0.61},{"t":7.88,"v":0.64},{"t":8.13,"v":0.67},{"t":8.39,"v":0.70},{"t":8.76,"v":0.72},{"t":9.14,"v":0.74},{"t":9.52,"v":0.76},{"t":9.77,"v":0.78},{"t":10,"v":0.81}],
"d11":[{"t":0,"v":1},{"t":0.5,"v":0.99},{"t":0.82,"v":0.95},{"t":1.2,"v":0.89},{"t":1.58,"v":0.80},{"t":1.95,"v":0.72},{"t":2.33,"v":0.63},{"t":2.71,"v":0.55},{"t":3.09,"v":0.49},{"t":3.47,"v":0.41},{"t":3.85,"v":0.35},{"t":4.1,"v":0.31},{"t":4.48,"v":0.25},{"t":4.85,"v":0.21},{"t":5.11,"v":0.18},{"t":5.49,"v":0.15},{"t":5.86,"v":0.14},{"t":6.24,"v":0.12},{"t":6.62,"v":0.11},{"t":7.0,"v":0.09},{"t":7.5,"v":0.06},{"t":8.01,"v":0.05},{"t":8.51,"v":0.02},{"t":9.02,"v":0.007},{"t":9.39,"v":0},{"t":10,"v":0}],
"d22":[{"t":0,"v":0},{"t":0.5,"v":0},{"t":0.63,"v":0.01},{"t":0.85,"v":0.03},{"t":1.07,"v":0.017},{"t":1.58,"v":0.013},{"t":2.08,"v":0.007},{"t":3.09,"v":0.009},{"t":3.47,"v":0.014},{"t":4.1,"v":0.009},{"t":4.6,"v":0.012},{"t":5.04,"v":0.017},{"t":5.36,"v":0.004},{"t":5.61,"v":0},{"t":6.87,"v":0.004},{"t":8.13,"v":0.001},{"t":10,"v":0}],
"d33":[{"t":0,"v":0},{"t":0.63,"v":0},{"t":0.95,"v":0.03},{"t":1.32,"v":0.12},{"t":1.7,"v":0.23},{"t":2.08,"v":0.32},{"t":2.46,"v":0.42},{"t":2.84,"v":0.47},{"t":3.22,"v":0.53},{"t":3.59,"v":0.59},{"t":3.97,"v":0.65},{"t":4.35,"v":0.70},{"t":4.73,"v":0.75},{"t":5.11,"v":0.79},{"t":5.49,"v":0.83},{"t":5.74,"v":0.85},{"t":6.24,"v":0.87},{"t":6.75,"v":0.89},{"t":7.25,"v":0.91},{"t":7.76,"v":0.93},{"t":8.13,"v":0.94},{"t":8.64,"v":0.96},{"t":9.14,"v":0.98},{"t":9.52,"v":0.995},{"t":10,"v":1.0}]
},
"columns":4,"bounds":"flush","spacing":{"row":26,"column":65},
"resolve":{"scale":{"color":"independent"},"legend":{"color":"independent"}},
"concat":[
{"width":265,"height":254,"title":{"text":"a","dx":-46,"dy":13},"resolve":{"axis":{"x":"independent"}},
 "encoding":{"y":{"field":"v","type":"quantitative","scale":{"domain":[0,1],"nice":false},"axis":{"values":[0,0.2,0.4,0.6,0.8,1],"labelExpr":"datum.value==0?'0':datum.value==1?'1':''","ticks":false,"tickSize":0,"labelPadding":11,"title":"Ω[Ωₘₐₓ]","titlePadding":-2}}},
 "layer":[
  {"data":{"name":"afP"},"mark":{"type":"line","interpolate":"step-after","color":"#9b87e6","opacity":0.15,"strokeWidth":1.2},"encoding":{"x":{"field":"t","type":"quantitative","scale":{"domain":[0,10],"nice":false},"axis":{"values":[0,2,4,6,8,10],"labels":false,"title":null}}}},
  {"data":{"name":"afO"},"mark":{"type":"line","interpolate":"step-after","color":"#f7b32b","opacity":0.15,"strokeWidth":1.2},"encoding":{"x":{"field":"t","type":"quantitative","scale":{"domain":[0,10],"nice":false},"axis":{"orient":"top","labels":false,"ticks":false,"grid":false,"title":"Epoch = 45","titleFontSize":19,"titlePadding":17}}}},
  {"data":{"name":"aP"},"mark":{"type":"line","interpolate":"step-after","strokeWidth":1.3},"encoding":{"x":{"field":"t","type":"quantitative","scale":{"domain":[0,10],"nice":false},"axis":null},"color":{"datum":"Ω₁₂","type":"nominal","scale":{"domain":["Ω₁₂","Ω₂₃"],"range":["#9b87e6","#f7b32b"]},"legend":{"title":null,"orient":"bottom-left","offset":6}}}},
  {"data":{"name":"aO"},"mark":{"type":"line","interpolate":"step-after","strokeWidth":1.3},"encoding":{"x":{"field":"t","type":"quantitative","scale":{"domain":[0,10],"nice":false},"axis":null},"color":{"datum":"Ω₂₃","type":"nominal","scale":{"domain":["Ω₁₂","Ω₂₃"],"range":["#9b87e6","#f7b32b"]},"legend":{"title":null,"orient":"bottom-left","offset":6}}}}
 ]},
{"width":265,"height":254,"title":{"text":"b","dx":-46,"dy":13},"resolve":{"axis":{"x":"independent"}},
 "encoding":{"y":{"field":"v","type":"quantitative","scale":{"domain":[0,1],"nice":false},"axis":{"values":[0,0.2,0.4,0.6,0.8,1],"labelExpr":"datum.value==0?'0':datum.value==1?'1':''","ticks":false,"tickSize":0,"labelPadding":11,"title":"Ω[Ωₘₐₓ]","titlePadding":-2}}},
 "layer":[
  {"data":{"name":"bfP"},"mark":{"type":"line","interpolate":"step-after","color":"#9b87e6","opacity":0.15,"strokeWidth":1.2},"encoding":{"x":{"field":"t","type":"quantitative","scale":{"domain":[0,10],"nice":false},"axis":{"values":[0,2,4,6,8,10],"labels":false,"title":null}}}},
  {"data":{"name":"bfO"},"mark":{"type":"line","interpolate":"step-after","color":"#f7b32b","opacity":0.12,"strokeWidth":1.2},"encoding":{"x":{"field":"t","type":"quantitative","scale":{"domain":[0,10],"nice":false},"axis":{"orient":"top","labels":false,"ticks":false,"grid":false,"title":"Epoch = 1824","titleFontSize":19,"titlePadding":17}}}},
  {"data":{"name":"bP"},"mark":{"type":"line","interpolate":"step-after","strokeWidth":1.3},"encoding":{"x":{"field":"t","type":"quantitative","scale":{"domain":[0,10],"nice":false},"axis":null},"color":{"datum":"Ω₁₂","type":"nominal","scale":{"domain":["Ω₁₂","Ω₂₃"],"range":["#9b87e6","#f7b32b"]},"legend":{"title":null,"orient":"none","legendX":95,"legendY":5}}}},
  {"data":{"name":"bO"},"mark":{"type":"line","interpolate":"step-after","strokeWidth":1.3},"encoding":{"x":{"field":"t","type":"quantitative","scale":{"domain":[0,10],"nice":false},"axis":null},"color":{"datum":"Ω₂₃","type":"nominal","scale":{"domain":["Ω₁₂","Ω₂₃"],"range":["#9b87e6","#f7b32b"]},"legend":{"title":null,"orient":"none","legendX":95,"legendY":5}}}}
 ]},
{"width":265,"height":254,"title":{"text":"c","dx":-49,"dy":13},"resolve":{"axis":{"x":"independent"}},
 "encoding":{"y":{"field":"v","type":"quantitative","scale":{"domain":[0,1],"nice":false},"axis":{"values":[0,0.2,0.4,0.6,0.8,1],"labelExpr":"datum.value==0?'0':datum.value==1?'1':''","ticks":false,"tickSize":0,"labelPadding":11,"title":"Ω[Ωₘₐₓ]","titlePadding":-2}}},
 "layer":[
  {"data":{"name":"cfP"},"mark":{"type":"line","interpolate":"step-after","color":"#9b87e6","opacity":0.15,"strokeWidth":1.2},"encoding":{"x":{"field":"t","type":"quantitative","scale":{"domain":[0,10],"nice":false},"axis":{"values":[0,2,4,6,8,10],"labels":false,"title":null}}}},
  {"data":{"name":"cfO"},"mark":{"type":"line","interpolate":"step-after","color":"#f7b32b","opacity":0.15,"strokeWidth":1.2},"encoding":{"x":{"field":"t","type":"quantitative","scale":{"domain":[0,10],"nice":false},"axis":{"orient":"top","labels":false,"ticks":false,"grid":false,"title":"Epoch = 4489","titleFontSize":19,"titlePadding":17}}}},
  {"data":{"name":"cP"},"mark":{"type":"line","interpolate":"step-after","strokeWidth":1.3},"encoding":{"x":{"field":"t","type":"quantitative","scale":{"domain":[0,10],"nice":false},"axis":null},"color":{"datum":"Ω₁₂","type":"nominal","scale":{"domain":["Ω₁₂","Ω₂₃"],"range":["#9b87e6","#f7b32b"]},"legend":{"title":null,"orient":"top-right","offset":6}}}},
  {"data":{"name":"cO"},"mark":{"type":"line","interpolate":"step-after","strokeWidth":1.3},"encoding":{"x":{"field":"t","type":"quantitative","scale":{"domain":[0,10],"nice":false},"axis":null},"color":{"datum":"Ω₂₃","type":"nominal","scale":{"domain":["Ω₁₂","Ω₂₃"],"range":["#9b87e6","#f7b32b"]},"legend":{"title":null,"orient":"top-right","offset":6}}}}
 ]},
{"width":265,"height":254,"title":{"text":"d","dx":-46,"dy":13},"resolve":{"axis":{"x":"independent"}},
 "encoding":{"y":{"field":"v","type":"quantitative","scale":{"domain":[0,1],"nice":false},"axis":{"values":[0,0.2,0.4,0.6,0.8,1],"labelExpr":"datum.value==0?'0':datum.value==1?'1':''","ticks":false,"tickSize":0,"labelPadding":11,"title":"Ω[Ωₘₐₓ]","titlePadding":-2}}},
 "layer":[
  {"data":{"name":"dfP"},"mark":{"type":"line","interpolate":"step-after","color":"#9b87e6","opacity":0.15,"strokeWidth":1.2},"encoding":{"x":{"field":"t","type":"quantitative","scale":{"domain":[0,10],"nice":false},"axis":{"values":[0,2,4,6,8,10],"labels":false,"title":null}}}},
  {"data":{"name":"dfO"},"mark":{"type":"line","interpolate":"step-after","color":"#f7b32b","opacity":0.15,"strokeWidth":1.2},"encoding":{"x":{"field":"t","type":"quantitative","scale":{"domain":[0,10],"nice":false},"axis":{"orient":"top","labels":false,"ticks":false,"grid":false,"title":"Epoch = 16,700","titleFontSize":19,"titlePadding":17}}}},
  {"data":{"name":"dP"},"mark":{"type":"line","interpolate":"step-after","strokeWidth":1.3},"encoding":{"x":{"field":"t","type":"quantitative","scale":{"domain":[0,10],"nice":false},"axis":null},"color":{"datum":"Ω₁₂","type":"nominal","scale":{"domain":["Ω₁₂","Ω₂₃"],"range":["#9b87e6","#f7b32b"]},"legend":{"title":null,"orient":"none","legendX":98,"legendY":5}}}},
  {"data":{"name":"dO"},"mark":{"type":"line","interpolate":"step-after","strokeWidth":1.3},"encoding":{"x":{"field":"t","type":"quantitative","scale":{"domain":[0,10],"nice":false},"axis":null},"color":{"datum":"Ω₂₃","type":"nominal","scale":{"domain":["Ω₁₂","Ω₂₃"],"range":["#9b87e6","#f7b32b"]},"legend":{"title":null,"orient":"none","legendX":98,"legendY":5}}}}
 ]},
{"width":265,"height":256,
 "encoding":{
  "x":{"field":"t","type":"quantitative","scale":{"domain":[0,10],"nice":false},"axis":{"values":[0,2,4,6,8,10],"format":"d","title":"t[π/Ωₘₐₓ]","labelPadding":4,"titlePadding":16}},
  "y":{"field":"v","type":"quantitative","scale":{"domain":[0,1],"nice":false},"axis":{"values":[0,0.2,0.4,0.6,0.8,1],"labelExpr":"datum.value==0?'0':datum.value==1?'1':''","ticks":false,"tickSize":0,"labelPadding":11,"title":"ρ","titlePadding":0}}},
 "layer":[
  {"data":{"name":"a11"},"mark":{"type":"line","interpolate":"monotone","strokeWidth":1.2},"encoding":{"color":{"datum":"ρ₁₁","type":"nominal","scale":{"domain":["ρ₁₁","ρ₂₂","ρ₃₃"],"range":["#ff3b3b","#4fd34f","#3535ff"]},"legend":{"title":null,"orient":"top-right","offset":6}}}},
  {"data":{"name":"a22"},"mark":{"type":"line","interpolate":"monotone","strokeWidth":1.2},"encoding":{"color":{"datum":"ρ₂₂","type":"nominal","scale":{"domain":["ρ₁₁","ρ₂₂","ρ₃₃"],"range":["#ff3b3b","#4fd34f","#3535ff"]},"legend":{"title":null,"orient":"top-right","offset":6}}}},
  {"data":{"name":"a33"},"mark":{"type":"line","interpolate":"monotone","strokeWidth":1.2},"encoding":{"color":{"datum":"ρ₃₃","type":"nominal","scale":{"domain":["ρ₁₁","ρ₂₂","ρ₃₃"],"range":["#ff3b3b","#4fd34f","#3535ff"]},"legend":{"title":null,"orient":"top-right","offset":6}}}}
 ]},
{"width":265,"height":256,
 "encoding":{
  "x":{"field":"t","type":"quantitative","scale":{"domain":[0,10],"nice":false},"axis":{"values":[0,2,4,6,8,10],"format":"d","title":"t[π/Ωₘₐₓ]","labelPadding":4,"titlePadding":16}},
  "y":{"field":"v","type":"quantitative","scale":{"domain":[0,1],"nice":false},"axis":{"values":[0,0.2,0.4,0.6,0.8,1],"labelExpr":"datum.value==0?'0':datum.value==1?'1':''","ticks":false,"tickSize":0,"labelPadding":11,"title":"ρ","titlePadding":0}}},
 "layer":[
  {"data":{"name":"b11"},"mark":{"type":"line","interpolate":"monotone","strokeWidth":1.2},"encoding":{"color":{"datum":"ρ₁₁","type":"nominal","scale":{"domain":["ρ₁₁","ρ₂₂","ρ₃₃"],"range":["#ff3b3b","#4fd34f","#3535ff"]},"legend":{"title":null,"orient":"none","legendX":187,"legendY":95}}}},
  {"data":{"name":"b22"},"mark":{"type":"line","interpolate":"monotone","strokeWidth":1.2},"encoding":{"color":{"datum":"ρ₂₂","type":"nominal","scale":{"domain":["ρ₁₁","ρ₂₂","ρ₃₃"],"range":["#ff3b3b","#4fd34f","#3535ff"]},"legend":{"title":null,"orient":"none","legendX":187,"legendY":95}}}},
  {"data":{"name":"b33"},"mark":{"type":"line","interpolate":"monotone","strokeWidth":1.2},"encoding":{"color":{"datum":"ρ₃₃","type":"nominal","scale":{"domain":["ρ₁₁","ρ₂₂","ρ₃₃"],"range":["#ff3b3b","#4fd34f","#3535ff"]},"legend":{"title":null,"orient":"none","legendX":187,"legendY":95}}}}
 ]},
{"width":265,"height":256,
 "encoding":{
  "x":{"field":"t","type":"quantitative","scale":{"domain":[0,10],"nice":false},"axis":{"values":[0,2,4,6,8,10],"format":"d","title":"t[π/Ωₘₐₓ]","labelPadding":4,"titlePadding":16}},
  "y":{"field":"v","type":"quantitative","scale":{"domain":[0,1],"nice":false},"axis":{"values":[0,0.2,0.4,0.6,0.8,1],"labelExpr":"datum.value==0?'0':datum.value==1?'1':''","ticks":false,"tickSize":0,"labelPadding":11,"title":"ρ","titlePadding":0}}},
 "layer":[
  {"data":{"name":"c11"},"mark":{"type":"line","interpolate":"monotone","strokeWidth":1.2},"encoding":{"color":{"datum":"ρ₁₁","type":"nominal","scale":{"domain":["ρ₁₁","ρ₂₂","ρ₃₃"],"range":["#ff3b3b","#4fd34f","#3535ff"]},"legend":{"title":null,"orient":"none","legendX":7,"legendY":93}}}},
  {"data":{"name":"c22"},"mark":{"type":"line","interpolate":"monotone","strokeWidth":1.2},"encoding":{"color":{"datum":"ρ₂₂","type":"nominal","scale":{"domain":["ρ₁₁","ρ₂₂","ρ₃₃"],"range":["#ff3b3b","#4fd34f","#3535ff"]},"legend":{"title":null,"orient":"none","legendX":7,"legendY":93}}}},
  {"data":{"name":"c33"},"mark":{"type":"line","interpolate":"monotone","strokeWidth":1.2},"encoding":{"color":{"datum":"ρ₃₃","type":"nominal","scale":{"domain":["ρ₁₁","ρ₂₂","ρ₃₃"],"range":["#ff3b3b","#4fd34f","#3535ff"]},"legend":{"title":null,"orient":"none","legendX":7,"legendY":93}}}}
 ]},
{"width":265,"height":256,
 "encoding":{
  "x":{"field":"t","type":"quantitative","scale":{"domain":[0,10],"nice":false},"axis":{"values":[0,2,4,6,8,10],"format":"d","title":"t[π/Ωₘₐₓ]","labelPadding":4,"titlePadding":16}},
  "y":{"field":"v","type":"quantitative","scale":{"domain":[0,1],"nice":false},"axis":{"values":[0,0.2,0.4,0.6,0.8,1],"labelExpr":"datum.value==0?'0':datum.value==1?'1':''","ticks":false,"tickSize":0,"labelPadding":11,"title":"ρ","titlePadding":0}}},
 "layer":[
  {"data":{"name":"d11"},"mark":{"type":"line","interpolate":"monotone","strokeWidth":1.2},"encoding":{"color":{"datum":"ρ₁₁","type":"nominal","scale":{"domain":["ρ₁₁","ρ₂₂","ρ₃₃"],"range":["#ff3b3b","#4fd34f","#3535ff"]},"legend":{"title":null,"orient":"none","legendX":188,"legendY":95}}}},
  {"data":{"name":"d22"},"mark":{"type":"line","interpolate":"monotone","strokeWidth":1.2},"encoding":{"color":{"datum":"ρ₂₂","type":"nominal","scale":{"domain":["ρ₁₁","ρ₂₂","ρ₃₃"],"range":["#ff3b3b","#4fd34f","#3535ff"]},"legend":{"title":null,"orient":"none","legendX":188,"legendY":95}}}},
  {"data":{"name":"d33"},"mark":{"type":"line","interpolate":"monotone","strokeWidth":1.2},"encoding":{"color":{"datum":"ρ₃₃","type":"nominal","scale":{"domain":["ρ₁₁","ρ₂₂","ρ₃₃"],"range":["#ff3b3b","#4fd34f","#3535ff"]},"legend":{"title":null,"orient":"none","legendX":188,"legendY":95}}}}
 ]}
]
}
